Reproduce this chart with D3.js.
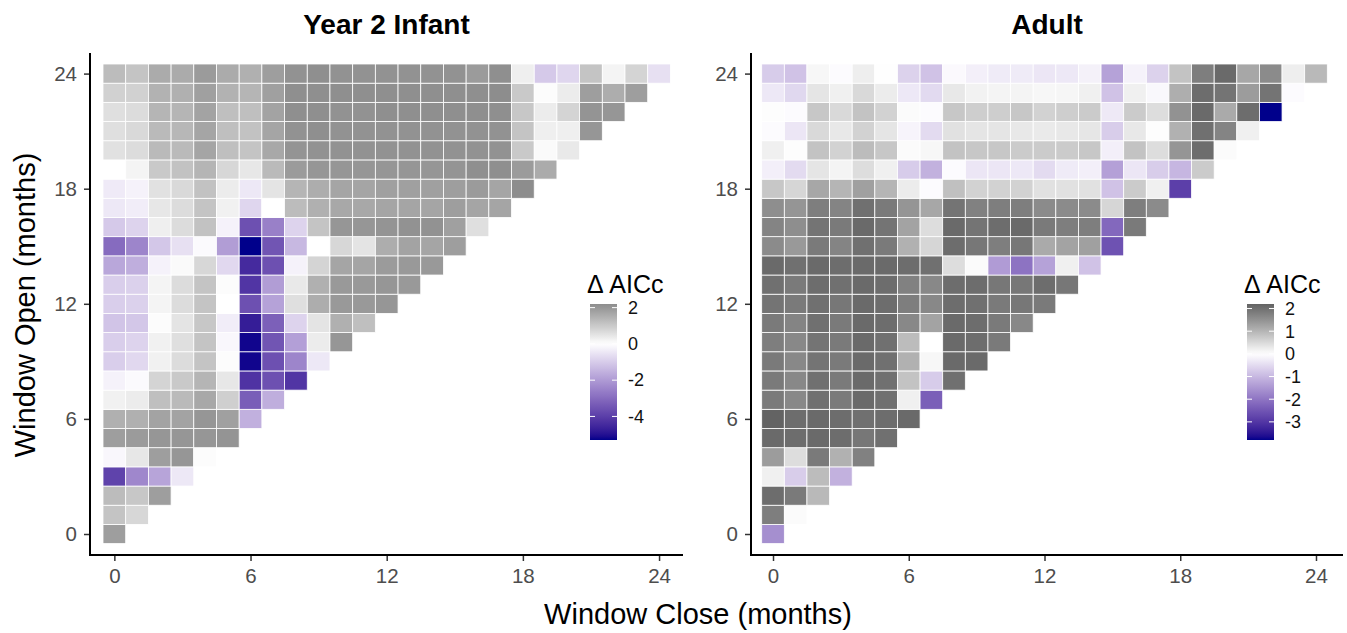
<!DOCTYPE html>
<html>
<head>
<meta charset="utf-8">
<script src="https://cdn.jsdelivr.net/npm/d3@7"></script>
<style>
  body { margin: 0; background: #fff; }
  text { font-family: "Liberation Sans", Arial, sans-serif; }
</style>
</head>
<body>
<div id="chart"></div>
<script>
// Delta AICc per window, one row per "open" month (index = open, entries = close 0..open)
var infantValues = [
  [1.85],
  [1.1, 0.75],
  [1.25, 1.05, 1.85],
  [-3.9, -2.4, -1.8, -0.45],
  [-0.15, 0.45, 1.85, 2.0, 0.05],
  [1.85, 1.9, 2.0, 2.0, 2.0, 2.05],
  [1.5, 1.5, 1.75, 1.75, 2.0, 1.8, -1.55],
  [0.25, 0.35, 1.2, 1.3, 1.65, 0.9, -3.3, -1.6],
  [-0.25, -0.1, 0.8, 1.0, 1.4, 0.45, -4.25, -3.6, -4.2],
  [-0.95, -0.75, 0.25, 0.65, 1.1, 0.05, -5.2, -3.6, -2.45, -0.45],
  [-0.95, -0.85, 0.25, 0.6, 1.1, -0.15, -5.2, -3.5, -1.9, 0.35, 2.0],
  [-1.15, -1.1, 0.05, 0.5, 1.05, -0.35, -4.75, -3.25, -0.85, 0.5, 1.5, 1.2],
  [-0.95, -0.9, 0.2, 0.65, 1.1, 0, -3.6, -1.85, 0.6, 1.55, 1.95, 1.95, 2.0],
  [-0.95, -0.9, 0.2, 0.65, 1.1, 0.05, -4.2, -1.95, 0.4, 1.5, 1.95, 1.95, 2.0, 1.95],
  [-1.75, -1.6, -0.25, 0.1, 0.75, -0.75, -4.45, -3.6, -0.25, 0.8, 1.7, 1.7, 1.9, 1.95, 1.95],
  [-3.0, -2.45, -1.1, -0.6, -0.1, -1.95, -5.3, -3.5, -1.4, 0, 0.75, 0.5, 1.55, 1.75, 1.7, 1.85],
  [-1.05, -0.85, 0.3, 0.65, 1.15, -0.25, -3.6, -2.55, -0.85, 1.1, 2.0, 2.0, 2.05, 2.1, 2.1, 1.8, 0.6],
  [-0.45, -0.35, 0.45, 0.65, 1.1, 0.25, -0.8, 0, 1.25, 1.5, 1.65, 1.65, 1.7, 1.7, 1.7, 1.85, 1.7, 1.7],
  [-0.4, -0.25, 0.55, 0.7, 1.15, 0.35, -0.45, 0.5, 1.4, 1.55, 1.7, 1.7, 1.8, 1.8, 1.8, 1.85, 1.9, 1.7, 2.2],
  [0, 0.2, 1.0, 1.15, 1.4, 0.75, 0.45, 1.3, 1.9, 2.0, 2.0, 2.0, 2.0, 2.0, 2.0, 2.05, 2.15, 2.15, 1.9, 1.6],
  [0.55, 0.65, 1.3, 1.3, 1.7, 1.2, 1.1, 1.65, 2.05, 2.1, 2.1, 2.1, 2.1, 2.1, 2.1, 2.1, 2.1, 2.1, 1.0, 0.1, 0.4],
  [0.6, 0.7, 1.3, 1.35, 1.7, 1.2, 1.15, 1.7, 2.1, 2.15, 2.1, 2.1, 2.1, 2.1, 2.1, 2.1, 2.1, 2.1, 1.1, 0.3, 0.3, 2.0],
  [0.6, 0.65, 1.4, 1.4, 1.75, 1.2, 1.2, 1.75, 2.15, 2.15, 2.1, 2.1, 2.15, 2.15, 2.15, 2.15, 2.15, 2.15, 1.05, 0.35, 0.8, 2.05, 2.0],
  [0.85, 0.85, 1.45, 1.5, 1.8, 1.45, 1.4, 1.8, 2.15, 2.15, 2.15, 2.15, 2.15, 2.15, 2.15, 2.15, 2.15, 2.2, 1.0, 0.05, 0.35, 1.85, 1.55, 1.85],
  [1.25, 1.1, 1.6, 1.6, 1.9, 1.6, 1.5, 1.85, 2.1, 2.15, 2.1, 2.1, 2.1, 2.1, 2.1, 2.1, 1.9, 2.15, 0.3, -1.05, -0.8, 1.1, 0.2, 0.8, -0.6]
];

var adultValues = [
  [-1.6],
  [1.8, 0.05],
  [2.05, 1.85, 0.95],
  [0.2, -0.7, 0.9, -1.1],
  [1.35, 0.45, 1.85, 1.05, 1.75],
  [2.1, 2.05, 2.1, 2.05, 1.9, 2.0],
  [2.2, 2.05, 2.1, 2.05, 2.0, 2.05, 2.1],
  [1.85, 1.65, 2.0, 1.85, 2.1, 2.0, 0.2, -2.35],
  [1.85, 1.65, 2.0, 1.85, 2.1, 2.0, 0.8, -0.72, 2.0],
  [1.85, 1.65, 1.95, 1.85, 2.1, 2.0, 1.05, 0.1, 2.1, 2.1],
  [1.8, 1.65, 1.95, 1.85, 2.1, 2.0, 0.9, 0, 2.1, 2.05, 1.85],
  [1.85, 1.7, 2.0, 1.85, 2.1, 2.05, 1.65, 1.25, 2.1, 2.05, 1.85, 1.65],
  [1.95, 1.85, 2.0, 1.9, 2.1, 2.05, 1.8, 1.65, 2.05, 2.0, 1.85, 1.9, 1.85],
  [2.0, 1.85, 2.05, 2.0, 2.1, 2.05, 1.75, 1.65, 2.05, 2.05, 1.9, 1.9, 2.05, 1.9],
  [2.1, 2.0, 2.1, 2.05, 2.1, 2.1, 2.05, 2.0, 0.45, 0.05, -1.42, -2.03, -1.33, 0.2, -0.85],
  [1.6, 1.4, 1.85, 1.7, 2.0, 1.85, 1.05, 0.55, 2.05, 1.9, 1.8, 1.9, 1.15, 1.25, 1.3, -2.55],
  [1.7, 1.55, 1.95, 1.85, 2.1, 1.95, 1.25, 0.45, 2.1, 1.95, 2.05, 2.1, 1.85, 1.8, 1.8, -2.2, 1.85],
  [1.55, 1.45, 1.8, 1.7, 2.0, 1.85, 1.45, 1.2, 1.95, 1.75, 1.8, 1.8, 1.6, 1.6, 1.6, 0.55, 1.8, 1.6],
  [0.75, 0.55, 1.2, 1.0, 1.3, 1.0, 0.25, -0.05, 0.85, 0.6, 0.6, 0.6, 0.4, 0.4, 0.4, -0.85, 0.7, 0.2, -2.85],
  [-0.22, -0.5, 0.35, 0.15, 0.45, 0.2, -0.72, -1.1, -0.05, -0.34, -0.34, -0.32, -0.5, -0.28, -0.22, -1.35, -0.34, -0.7, -1.03, 0.7],
  [0.2, 0.03, 0.8, 0.6, 0.9, 0.75, 0.05, 0.1, 0.8, 0.75, 0.75, 0.7, 0.7, 0.7, 0.75, -0.22, 0.8, 0.45, 1.45, 2.05, 0.05],
  [-0.05, -0.34, 0.5, 0.3, 0.6, 0.35, -0.15, -0.5, 0.4, 0.35, 0.35, 0.3, 0.28, 0.3, 0.33, -0.7, 0.3, 0.02, 1.05, 2.0, 1.7, 0.2],
  [0.02, -0.05, 0.75, 0.5, 0.8, 0.6, 0.05, -0.05, 0.75, 0.65, 0.65, 0.75, 0.6, 0.65, 0.7, -0.3, 0.7, 0.45, 1.5, 2.1, 1.15, 2.05, -3.8],
  [-0.32, -0.55, 0.35, 0.2, 0.5, 0.25, -0.32, -0.52, 0.3, 0.17, 0.15, 0.15, 0.1, 0.12, 0.2, -0.85, 0.2, -0.1, 1.1, 2.05, 1.95, 1.35, 1.95, -0.05],
  [-0.72, -0.85, 0.1, -0.05, 0.22, -0.02, -0.63, -0.85, -0.08, -0.22, -0.28, -0.28, -0.34, -0.32, -0.2, -1.33, -0.18, -0.63, 0.8, 1.8, 2.1, 1.2, 1.6, 0.22, 0.95]
];

var panelTitles = ["Year 2 Infant", "Adult"];
var axisTicks = [0, 6, 12, 18, 24];
var infantLegendTicks = [2, 0, -2, -4];
var adultLegendTicks = [2, 1, 0, -1, -2, -3];
var legendTitle = "\u0394 AICc";
var xTitle = "Window Close (months)";
var yTitle = "Window Open (months)";

var svgWidth = 1347;
var svgHeight = 633;

var svg = d3.select("#chart")
  .append("svg")
  .attr("width", svgWidth)
  .attr("height", svgHeight)
  .style("background", "#fff");

var defs = svg.append("defs");

var panels = [
  { title: panelTitles[0], rows: infantValues, legendTicks: infantLegendTicks,
    axisLeft: 90, axisRight: 683, cellLeft: 103, cellRight: 670.4, legendX: 590 },
  { title: panelTitles[1], rows: adultValues, legendTicks: adultLegendTicks,
    axisLeft: 751, axisRight: 1343, cellLeft: 761.7, cellRight: 1327.3, legendX: 1247 }
];

var axisTop = 53, axisBottom = 555;
var cellTop = 64, cellBottom = 543.6;

panels.forEach(function(p, pi) {
  var cells = [];
  p.rows.forEach(function(row, open) {
    row.forEach(function(v, close) {
      cells.push({ open: open, close: close, value: v });
    });
  });

  var vmin = d3.min(cells, d => d.value);
  var vmax = d3.max(cells, d => d.value);
  var mx = Math.max(Math.abs(vmin), Math.abs(vmax));

  // diverging fill: white at 0, black above, dark blue below (Lab)
  var highColor = d3.interpolateLab("#ffffff", "#000000");
  var lowColor = d3.interpolateLab("#ffffff", "#00008b");
  function fill(v) {
    return v >= 0 ? highColor(v / mx) : lowColor(-v / mx);
  }

  var xScale = d3.scaleLinear().domain([-0.5, 24.5]).range([p.cellLeft, p.cellRight]);
  var yScale = d3.scaleLinear().domain([-0.5, 24.5]).range([cellBottom, cellTop]);

  var g = svg.append("g");

  g.selectAll("rect.cell")
    .data(cells)
    .enter()
    .append("rect")
    .attr("class", "cell")
    .attr("x", d => xScale(d.close - 0.5))
    .attr("y", d => yScale(d.open + 0.5))
    .attr("width", xScale(0.5) - xScale(-0.5))
    .attr("height", yScale(-0.5) - yScale(0.5))
    .attr("fill", d => fill(d.value))
    .attr("stroke", "#ffffff")
    .attr("stroke-width", 0.8);

  // axes
  var bottomAxis = d3.axisBottom(xScale).tickValues(axisTicks).tickSize(6).tickPadding(7).tickSizeOuter(0);
  var leftAxis = d3.axisLeft(yScale).tickValues(axisTicks).tickSize(6).tickPadding(7).tickSizeOuter(0);

  var xa = g.append("g")
    .attr("transform", `translate(0, ${axisBottom})`)
    .call(bottomAxis);
  var ya = g.append("g")
    .attr("transform", `translate(${p.axisLeft}, 0)`)
    .call(leftAxis);

  [xa, ya].forEach(function(a) {
    a.select(".domain").remove();
    a.selectAll(".tick line").attr("stroke", "#333").attr("stroke-width", 1.5);
    a.selectAll(".tick text")
      .attr("fill", "#4d4d4d")
      .style("font-size", "20.5px")
      .style("font-family", "'Liberation Sans', Arial, sans-serif");
  });

  g.append("line")
    .attr("x1", p.axisLeft).attr("x2", p.axisLeft)
    .attr("y1", axisTop).attr("y2", axisBottom + 1)
    .attr("stroke", "#000").attr("stroke-width", 2);
  g.append("line")
    .attr("x1", p.axisLeft - 1).attr("x2", p.axisRight)
    .attr("y1", axisBottom).attr("y2", axisBottom)
    .attr("stroke", "#000").attr("stroke-width", 2);

  // panel title
  g.append("text")
    .attr("x", (p.axisLeft + p.axisRight) / 2)
    .attr("y", 34)
    .attr("text-anchor", "middle")
    .style("font-size", "28px")
    .style("font-weight", "bold")
    .text(p.title);

  // colour bar legend
  var barTop = 304, barBottom = 440, barW = 27;
  var gradId = "grad" + pi;
  var grad = defs.append("linearGradient")
    .attr("id", gradId)
    .attr("x1", 0).attr("y1", 0).attr("x2", 0).attr("y2", 1);
  d3.range(41).forEach(function(i) {
    var v = vmax - (vmax - vmin) * i / 40;
    grad.append("stop").attr("offset", (i / 40 * 100) + "%").attr("stop-color", fill(v));
  });

  var legendScale = d3.scaleLinear().domain([vmin, vmax]).range([barBottom, barTop]);

  var lg = svg.append("g");
  lg.append("text")
    .attr("x", p.legendX - 3)
    .attr("y", 293)
    .style("font-size", "25px")
    .text(legendTitle);

  lg.append("rect")
    .attr("x", p.legendX)
    .attr("y", barTop)
    .attr("width", barW)
    .attr("height", barBottom - barTop)
    .attr("fill", `url(#${gradId})`);

  p.legendTicks.forEach(function(t) {
    var ty = legendScale(t);
    lg.append("line")
      .attr("x1", p.legendX).attr("x2", p.legendX + 5)
      .attr("y1", ty).attr("y2", ty)
      .attr("stroke", "#fff").attr("stroke-width", 1);
    lg.append("line")
      .attr("x1", p.legendX + barW - 5).attr("x2", p.legendX + barW)
      .attr("y1", ty).attr("y2", ty)
      .attr("stroke", "#fff").attr("stroke-width", 1);
    lg.append("text")
      .attr("x", p.legendX + barW + 11)
      .attr("y", ty)
      .attr("dy", "0.35em")
      .style("font-size", "18px")
      .attr("fill", "#111")
      .text(t);
  });
});

// shared axis titles
svg.append("text")
  .attr("x", 698)
  .attr("y", 624)
  .attr("text-anchor", "middle")
  .style("font-size", "29px")
  .text(xTitle);

svg.append("text")
  .attr("transform", "translate(35, 305) rotate(-90)")
  .attr("text-anchor", "middle")
  .style("font-size", "29px")
  .text(yTitle);
</script>
</body>
</html>
